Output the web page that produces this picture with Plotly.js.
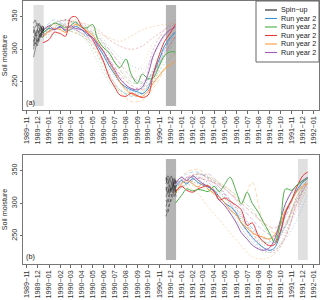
<!DOCTYPE html>
<html><head><meta charset="utf-8">
<script src="https://cdn.plot.ly/plotly-3.0.1.min.js"></script>
<style>html,body{margin:0;padding:0;background:#fff}#plot{width:320px;height:300px}</style>
</head><body><div id="plot"></div>
<script>
// ---------- data ----------
const tickDates = ["1989-11-01","1989-12-01","1990-01-01","1990-02-01","1990-03-01","1990-04-01","1990-05-01","1990-06-01","1990-07-01","1990-08-01","1990-09-01","1990-10-01","1990-11-01","1990-12-01","1991-01-01","1991-02-01","1991-03-01","1991-04-01","1991-05-01","1991-06-01","1991-07-01","1991-08-01","1991-09-01","1991-10-01","1991-11-01","1991-12-01","1992-01-01"];
const tickLabels = ["1989\u221211","1989\u221212","1990\u221201","1990\u221202","1990\u221203","1990\u221204","1990\u221205","1990\u221206","1990\u221207","1990\u221208","1990\u221209","1990\u221210","1990\u221211","1990\u221212","1991\u221201","1991\u221202","1991\u221203","1991\u221204","1991\u221205","1991\u221206","1991\u221207","1991\u221208","1991\u221209","1991\u221210","1991\u221211","1991\u221212","1992\u221201"];
const legendLabels = ["Spin\u2212up","Run year 2","Run year 2","Run year 2","Run year 2","Run year 2"];

const datesA = ["1989-12-15","1990-01-01","1990-01-15","1990-02-01","1990-02-15","1990-03-01","1990-03-15","1990-04-01","1990-04-15","1990-05-01","1990-05-15","1990-06-01","1990-06-15","1990-07-01","1990-07-15","1990-08-01","1990-08-15","1990-09-01","1990-09-15","1990-10-01","1990-10-15","1990-11-01","1990-11-15","1990-12-01","1990-12-15"];
const datesB = ["1990-12-15","1991-01-01","1991-01-15","1991-02-01","1991-02-15","1991-03-01","1991-03-15","1991-04-01","1991-04-15","1991-05-01","1991-05-15","1991-06-01","1991-06-15","1991-07-01","1991-07-15","1991-08-01","1991-08-15","1991-09-01","1991-09-15","1991-10-01","1991-10-15","1991-11-01","1991-11-15","1991-12-01","1991-12-15"];
const monthsA = ["1989-12-15","1990-01-15","1990-02-15","1990-03-15","1990-04-15","1990-05-15","1990-06-15","1990-07-15","1990-08-15","1990-09-15","1990-10-15","1990-11-15","1990-12-15"];
const monthsB = ["1990-12-15","1991-01-15","1991-02-15","1991-03-15","1991-04-15","1991-05-15","1991-06-15","1991-07-15","1991-08-15","1991-09-15","1991-10-15","1991-11-15","1991-12-15"];
const spinDatesA = ["1989-11-19","1989-11-24","1989-11-29","1989-12-04","1989-12-09","1989-12-13","1989-12-17"];
const spinDatesB = ["1990-11-19","1990-11-24","1990-11-29","1990-12-04","1990-12-09","1990-12-13","1990-12-17"];

// panel (a) solid runs
const blueA   = [325,332,330,335,328,330,335,330,322,318,305,290,275,262,250,242,238,235,232,240,262,285,305,318,326];
const greenA  = [325,333,340,337,333,336,342,333,333,338,315,302,295,280,272,285,262,248,262,255,256,275,290,296,296];
const redA    = [310,315,326,324,320,348,350,335,326,315,300,280,258,242,230,228,233,229,226,230,262,292,312,325,338];
const orangeA = [320,328,332,330,326,332,338,334,328,322,310,296,280,265,250,238,232,228,228,236,248,260,270,276,282];
const purpleA = [328,336,330,334,330,336,332,330,325,318,308,296,282,268,255,245,240,238,242,262,290,310,322,330,334];
// panel (a) ensemble members (monthly)
const blueA1   = [322,335,340,338,332,310,278,250,236,240,268,300,325];
const blueA2   = [330,345,336,330,318,300,262,238,228,232,258,295,318];
const blueA3   = [315,325,345,340,335,325,305,288,275,270,290,320,340];
const greenA1  = [318,332,330,325,315,290,255,238,230,235,252,278,295];
const greenA2  = [330,340,345,338,330,318,295,268,250,248,265,290,310];
const greenA3  = [325,322,330,328,312,280,250,236,232,240,270,305,328];
const redA1    = [328,340,345,342,338,330,315,305,300,305,318,330,340];
const redA2    = [320,330,335,330,320,305,285,262,245,238,258,292,320];
const redA3    = [335,330,338,335,325,312,290,270,255,262,290,320,335];
const orangeA1 = [320,335,338,345,335,325,318,312,320,330,335,338,342];
const orangeA2 = [325,338,330,325,315,295,262,235,220,222,240,268,295];
const orangeA3 = [318,328,342,338,330,320,300,280,265,275,310,325,335];
const purpleA1 = [330,340,335,332,325,310,285,258,240,245,300,330,345];
const purpleA2 = [322,332,345,340,332,320,300,278,258,250,262,300,330];
const purpleA3 = [326,330,336,330,318,300,270,248,235,232,250,288,318];
// panel (a) spin-up
const spinA1 = [288,300,312,318,322,328,330];
const spinA2 = [300,310,305,318,325,322,332];
const spinA3 = [320,315,325,330,320,328,326];
const spinA4 = [335,325,320,328,335,330,334];
const spinA5 = [310,322,330,325,318,332,328];
const spinA6 = [325,335,340,332,328,336,330];
const spinA7 = [315,308,318,312,325,318,322];
const spinA8 = [340,345,335,338,330,325,335];
const spinA9 = [305,318,310,322,330,336,329];
const spinA10 = [330,320,328,340,335,328,324];

// panel (b) solid runs
const blueB   = [325,335,330,338,332,328,325,320,310,300,295,285,270,258,248,238,232,228,232,255,285,305,320,332,338];
const greenB  = [300,312,322,319,321,320,318,326,318,330,340,318,299,317,300,286,271,254,240,272,322,320,328,334,338];
const redB    = [318,326,320,317,322,325,327,318,305,308,303,297,290,266,270,250,241,235,237,258,287,306,325,342,348];
const orangeB = [315,330,335,330,325,330,322,315,310,300,290,282,270,262,255,250,248,245,252,268,290,305,318,326,330];
const purpleB = [330,340,335,342,336,330,326,318,305,296,285,270,255,245,236,230,228,232,245,275,300,318,328,335,340];
// panel (b) ensemble members (monthly)
const blueB1   = [322,338,340,332,318,300,278,258,242,240,268,305,330];
const blueB2   = [330,345,348,338,322,305,285,262,246,250,285,318,335];
const blueB3   = [318,328,332,325,310,290,262,240,228,230,245,275,315];
const greenB1  = [315,330,335,328,315,298,275,255,240,245,300,325,340];
const greenB2  = [325,335,345,340,330,320,305,290,265,245,265,310,335];
const greenB3  = [320,328,325,320,305,285,262,240,225,228,255,300,328];
const redB1    = [328,340,345,338,325,305,280,255,232,228,250,300,332];
const redB2    = [318,332,338,335,328,315,300,285,270,262,280,320,340];
const redB3    = [325,335,330,325,310,292,270,250,236,238,265,310,336];
const orangeB1 = [320,325,315,295,275,255,235,218,215,222,250,295,325];
const orangeB2 = [330,348,352,342,332,320,300,332,270,255,270,310,335];
const orangeB3 = [325,338,342,335,318,298,275,258,245,250,272,305,330];
const purpleB1 = [325,338,345,340,325,300,270,245,228,225,248,300,335];
const purpleB2 = [330,340,338,345,330,315,295,275,258,250,265,305,332];
const purpleB3 = [318,330,340,332,318,302,282,262,248,242,258,290,325];
// panel (b) spin-up
const spinB1 = [280,290,300,305,312,318,322];
const spinB2 = [330,338,325,320,328,335,330];
const spinB3 = [310,318,328,322,315,325,320];
const spinB4 = [340,330,335,342,330,325,328];
const spinB5 = [295,305,315,312,320,310,318];
const spinB6 = [320,325,315,330,338,330,335];
const spinB7 = [305,300,312,325,320,328,315];
const spinB8 = [335,342,338,330,325,338,332];
const spinB9 = [290,285,298,310,318,322,310];
const spinB10 = [325,315,322,318,332,320,326];

// ---------- styling / construction ----------
const C = {blue:'#3a8fd0', green:'#4aae48', red:'#e8393b', orange:'#ff9a3c', purple:'#9e5db3', black:'#222222'};
const dashes = ['2px,2px','4px,2px','1px,2px'];
const traces = [];
function addLine(x, y, color, width, dash, opacity, ax) {
  traces.push({type:'scatter', mode:'lines', x:x, y:y, xaxis:ax[0], yaxis:ax[1],
    line:{color:color, width:width, dash:dash, shape:'spline', smoothing:0.9},
    opacity:opacity, showlegend:false, hoverinfo:'skip'});
}
const axA = ['x','y'], axB = ['x2','y2'];
const ensA = [[blueA1,blueA2,blueA3,'blue'],[greenA1,greenA2,greenA3,'green'],[redA1,redA2,redA3,'red'],[orangeA1,orangeA2,orangeA3,'orange'],[purpleA1,purpleA2,purpleA3,'purple']];
const ensB = [[blueB1,blueB2,blueB3,'blue'],[greenB1,greenB2,greenB3,'green'],[redB1,redB2,redB3,'red'],[orangeB1,orangeB2,orangeB3,'orange'],[purpleB1,purpleB2,purpleB3,'purple']];
ensA.forEach(e => { for (let i=0;i<3;i++) addLine(monthsA, e[i], C[e[3]], 0.8, dashes[i], 0.45, axA); });
ensB.forEach(e => { for (let i=0;i<3;i++) addLine(monthsB, e[i], C[e[3]], 0.8, dashes[i], 0.45, axB); });
[[blueA,'blue'],[greenA,'green'],[orangeA,'orange'],[purpleA,'purple'],[redA,'red']].forEach(s => addLine(datesA, s[0], C[s[1]], 1.0, 'solid', 1, axA));
[[blueB,'blue'],[orangeB,'orange'],[purpleB,'purple'],[redB,'red'],[greenB,'green']].forEach(s => addLine(datesB, s[0], C[s[1]], 1.0, 'solid', 1, axB));
[spinA1,spinA2,spinA3,spinA4,spinA5,spinA6,spinA7,spinA8,spinA9,spinA10].forEach((s,i) => addLine(spinDatesA, s, C.black, 0.6, i%3===2?'3px,2px':'solid', 0.8, axA));
[spinB1,spinB2,spinB3,spinB4,spinB5,spinB6,spinB7,spinB8,spinB9,spinB10].forEach((s,i) => addLine(spinDatesB, s, C.black, 0.6, i%2===0?'3px,2px':'solid', 0.8, axB));

const FONT = 'Liberation Sans, Arial, sans-serif';
const FS = 7.2;
const xax = () => ({domain:[0,1], range:['1989-10-21','1992-01-15'], type:'date',
  tickmode:'array', tickvals:tickDates, ticktext:tickLabels, tickangle:-90,
  ticks:'outside', ticklen:2.5, tickwidth:0.8, tickcolor:'#444',
  tickfont:{family:FONT, size:FS, color:'#333'},
  showline:true, linecolor:'#777', linewidth:1, mirror:true, showgrid:false, zeroline:false});
const yax = (dom, anchor) => ({domain:dom, anchor:anchor, range:[207,374],
  tickvals:[250,300,350], ticktext:['250','300','350'], tickangle:-90,
  ticks:'outside', ticklen:2.5, tickwidth:0.8, tickcolor:'#444',
  tickfont:{family:FONT, size:FS, color:'#333'},
  title:{text:'Soil moisture', font:{family:FONT, size:FS, color:'#222'}, standoff:3},
  showline:true, linecolor:'#777', linewidth:1, mirror:true, showgrid:false, zeroline:false});

const shapes = [];
function rect(x0,x1,fill,xr,yr){ shapes.push({type:'rect', xref:xr, yref:yr, x0:x0, x1:x1, y0:213, y1:368, fillcolor:fill, line:{width:0}, layer:'below'}); }
rect('1989-11-19','1989-12-17','#e0e0e0','x','y');
rect('1990-11-19','1990-12-17','#b4b4b4','x','y');
rect('1990-11-19','1990-12-17','#b4b4b4','x2','y2');
rect('1991-11-18','1991-12-15','#e0e0e0','x2','y2');

// custom compact legend (pixel positions converted to paper coords)
const L=23, R=1, T=1, B=36, W=320, H=300;
const px = v => (v - L)/(W - L - R);
const py = v => (H - B - v)/(H - T - B);
shapes.push({type:'rect', xref:'paper', yref:'paper', x0:px(256), x1:px(319), y0:py(62), y1:py(1),
  fillcolor:'#ffffff', line:{color:'#666', width:1}, layer:'above'});
const legColors = [C.black, C.blue, C.green, C.red, C.orange, C.purple];
const annotations = [];
legendLabels.forEach((t,i) => {
  const yy = 10 + i*8.5;
  shapes.push({type:'line', xref:'paper', yref:'paper', x0:px(265), x1:px(277), y0:py(yy), y1:py(yy), line:{color:legColors[i], width:1.1}, layer:'above'});
  annotations.push({xref:'paper', yref:'paper', x:px(279), y:py(yy), text:t, showarrow:false, xanchor:'left', yanchor:'middle', font:{family:FONT, size:FS, color:'#222'}});
});
annotations.push({xref:'x domain', yref:'y domain', x:0.003, y:0.005, text:'(a)', showarrow:false, xanchor:'left', yanchor:'bottom', font:{family:FONT, size:FS, color:'#222'}});
annotations.push({xref:'x2 domain', yref:'y2 domain', x:0.003, y:0.005, text:'(b)', showarrow:false, xanchor:'left', yanchor:'bottom', font:{family:FONT, size:FS, color:'#222'}});

const ax1 = xax(); ax1.anchor = 'y';
const ax2 = xax(); ax2.anchor = 'y2';
const layout = {
  width:W, height:H, margin:{l:L, r:R, t:T, b:B, pad:0},
  paper_bgcolor:'#fff', plot_bgcolor:'#fff', showlegend:false,
  xaxis:ax1, yaxis:yax([py(110),1],'x'),
  xaxis2:ax2, yaxis2:yax([0,py(155)],'x2'),
  shapes:shapes, annotations:annotations
};
Plotly.newPlot('plot', traces, layout, {displayModeBar:false, staticPlot:true});
</script></body></html>
